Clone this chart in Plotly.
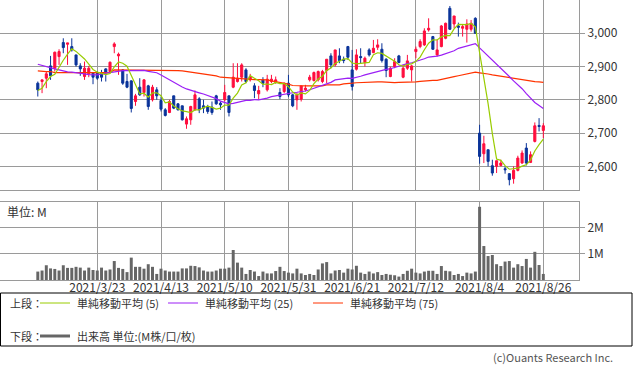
import pandas as pd
import plotly.graph_objects as go

# ---------------- data ----------------
start_date = "2021-03-03"
end_date = "2021-08-26"
jp_holidays = ["2021-04-29", "2021-05-03", "2021-05-04", "2021-05-05",
               "2021-07-22", "2021-07-23", "2021-08-09"]
dates = [d.strftime("%Y-%m-%d") for d in
         pd.bdate_range(start_date, end_date, freq="C", holidays=jp_holidays)]

opens = [2850,2855,2865,2902,2895,2930,2972,2967,2960,2935, 2902,2870,2878,2880,2880,2882,2893,2885,2960,2932,
         2890,2855,2857,2795,2838,2822,2842,2800,2830,2798, 2770,2762,2812,2788,2782,2727,2740,2770,2803,2782,
         2780,2778,2812,2790,2800,2812,2838,2855,2868,2890, 2860,2842,2818,2860,2830,2855,2852,2822,2825,2850,
         2815,2800,2802,2830,2860,2858,2860,2855,2888,2932, 2905,2932,2922,2960,2890,2892,2930,2912,2950,2942,
         2958,2952,2922,2870,2900,2932,2868,2895,2890,2945, 2960,2965,3010,2990,2935,2960,2985,3075,3028,3022,
         3015,3012,3012,3045,2700,2638,2650,2602,2600,2603, 2593,2578,2563,2588,2610,2655,2612,2675,2723,2708]
highs = [2855,2860,2885,2932,2945,2952,2985,2971,2985,2935, 2910,2915,2902,2882,2885,2890,2895,2915,2973,2942,
         2892,2878,2858,2818,2865,2862,2845,2845,2838,2810, 2775,2800,2812,2790,2782,2750,2782,2828,2808,2800,
         2785,2795,2815,2795,2845,2812,2910,2910,2910,2895, 2878,2850,2842,2868,2875,2875,2870,2835,2852,2875,
         2818,2822,2842,2845,2875,2885,2888,2890,2922,2940, 2950,2955,2930,2962,2950,2952,2955,2930,2955,2980,
         2982,2970,2925,2900,2925,2935,2905,2935,2905,2960, 2982,3015,3045,2992,2982,3025,3032,3082,3052,3032,
         3028,3042,3040,3048,2725,2692,2650,2620,2617,2620, 2600,2580,2600,2632,2648,2670,2645,2732,2745,2730]
lows = [2810,2820,2835,2860,2885,2905,2940,2905,2945,2900, 2872,2860,2868,2847,2860,2855,2855,2882,2940,2875,
        2845,2835,2762,2782,2812,2810,2770,2795,2800,2765, 2750,2760,2772,2768,2738,2713,2725,2768,2760,2760,
        2758,2755,2785,2770,2795,2750,2835,2852,2855,2850, 2855,2805,2802,2838,2825,2850,2848,2802,2820,2808,
        2778,2770,2795,2825,2855,2855,2855,2850,2850,2895, 2900,2910,2910,2920,2828,2888,2910,2900,2930,2940,
        2950,2912,2868,2868,2895,2910,2865,2890,2855,2925, 2955,2962,3005,2950,2930,2958,2982,3010,3015,2990,
        2990,2972,3005,2998,2608,2610,2600,2572,2580,2600, 2578,2543,2548,2585,2608,2603,2610,2672,2705,2685]
closes = [2830,2860,2878,2872,2943,2945,2957,2971,2950,2905, 2893,2895,2895,2868,2865,2868,2882,2913,2968,2937,
          2850,2838,2774,2812,2815,2860,2780,2838,2812,2772, 2753,2795,2775,2770,2740,2743,2780,2815,2770,2775,
          2765,2762,2788,2785,2822,2762,2868,2865,2905,2855, 2870,2828,2828,2850,2862,2862,2860,2810,2850,2815,
          2782,2815,2842,2835,2868,2882,2885,2885,2922,2905, 2950,2918,2918,2928,2840,2935,2927,2925,2935,2955,
          2965,2918,2888,2895,2915,2912,2895,2917,2902,2952, 2975,3007,3015,2952,2950,3022,3030,3012,3052,3018,
          3020,3028,3030,3000,2630,2668,2615,2580,2617,2610, 2590,2560,2588,2625,2640,2610,2635,2722,2720,2722]

# volume, in millions of shares
volumes = [0.32,0.36,0.56,0.44,0.42,0.36,0.56,0.46,0.46,0.50, 0.47,0.36,0.47,0.38,0.36,0.47,0.36,0.40,0.72,0.46,
           0.42,0.30,0.85,0.50,0.50,0.43,0.60,0.50,0.23,0.43, 0.36,0.32,0.32,0.32,0.44,0.44,0.54,0.53,0.48,0.36,
           0.32,0.32,0.36,0.43,0.43,0.47,1.14,0.66,0.47,0.23, 0.38,0.32,0.15,0.32,0.25,0.25,0.34,0.50,0.34,0.28,
           0.25,0.43,0.25,0.19,0.23,0.19,0.40,0.63,0.68,0.25, 0.36,0.38,0.28,0.43,0.40,0.54,0.28,0.23,0.32,0.25,
           0.30,0.19,0.23,0.20,0.18,0.13,0.23,0.35,0.43,0.28, 0.25,0.32,0.35,0.35,0.23,0.53,0.35,0.33,0.19,0.23,
           0.15,0.28,0.25,0.32,2.78,1.29,0.91,0.95,0.60,0.53, 0.70,0.72,0.47,0.60,0.53,0.80,0.47,1.07,0.57,0.23]

# moving-average values before enough in-window history exists
ma5_head = [2828, 2835, 2855, 2870]
ma25_head = [2907, 2903, 2900, 2897, 2893, 2890, 2886, 2884, 2883, 2882, 2880, 2878,
             2876, 2875, 2875, 2878, 2880, 2883, 2885, 2887, 2888, 2888, 2888, 2888]
ma75_head = [2887, 2885, 2885, 2885,
             2882, 2882, 2882, 2882, 2882, 2882, 2882, 2882, 2882, 2882, 2882, 2882, 2882, 2882,
             2890, 2890, 2890, 2890, 2890, 2890, 2890, 2890, 2890, 2890, 2890, 2890, 2890, 2890, 2890,
             2888, 2887, 2885, 2883, 2881, 2880, 2878, 2876, 2875, 2872, 2868, 2867, 2866, 2865, 2864, 2862,
             2861, 2861, 2861, 2861, 2861,
             2860, 2857, 2855, 2852, 2850, 2847, 2843,
             2842, 2842, 2842, 2842, 2842, 2842, 2842,
             2845, 2845, 2845, 2845, 2848, 2848]

tick_dates = ["2021-03-23", "2021-04-13", "2021-05-10", "2021-05-31",
              "2021-06-21", "2021-07-12", "2021-08-04", "2021-08-26"]
tick_labels = ["2021/3/23", "2021/4/13", "2021/5/10", "2021/5/31",
               "2021/6/21", "2021/7/12", "2021/8/4", "2021/8/26"]
price_ticks = [2600, 2700, 2800, 2900, 3000]
vol_ticks = [1, 2]
vol_tick_labels = ["1M", "2M"]

legend_upper = ["単純移動平均 (5)", "単純移動平均 (25)", "単純移動平均 (75)"]
legend_lower = "出来高 単位:(M株/口/枚)"

# ---------------- derived ----------------
def rolling(values, window, head):
    out = list(head)
    for i in range(len(head), len(values)):
        seg = values[i - window + 1:i + 1]
        out.append(sum(seg) / window)
    return out

ma5 = rolling(closes, 5, ma5_head)
ma25 = rolling(closes, 25, ma25_head)
ma75 = rolling(closes, 75, ma75_head)

# ---------------- style ----------------
RED = "#FF0D3D"
BLUE = "#0A3399"
C5 = "#99CC00"
C25 = "#9B1FF5"
C75 = "#FF3300"
VOLC = "#666666"
GRID = "#9A9A9A"
FONT = "Noto Sans CJK JP"
TXT = "#333333"

W, H = 633, 373
ML, MR, MT, MB = 0, 54, 0, 93
PW = W - ML - MR
PH = H - MT - MB


def px(xp):
    return (xp - ML) / PW


def py(yp):
    return (H - MB - yp) / PH


fig = go.Figure()

fig.add_trace(go.Candlestick(
    x=dates, open=opens, high=highs, low=lows, close=closes,
    increasing=dict(line=dict(color=RED, width=1), fillcolor=RED),
    decreasing=dict(line=dict(color=BLUE, width=1), fillcolor=BLUE),
    xaxis="x", yaxis="y", hoverinfo="skip"))

for vals, col in [(ma75, C75), (ma25, C25), (ma5, C5)]:
    fig.add_trace(go.Scatter(x=dates, y=vals, mode="lines",
                             line=dict(color=col, width=1.2),
                             xaxis="x", yaxis="y", hoverinfo="skip"))

fig.add_trace(go.Bar(x=dates, y=volumes, marker=dict(color=VOLC, line=dict(width=0)),
                     xaxis="x2", yaxis="y2", hoverinfo="skip"))

xr = [-8.9, 127.4]
common_x = dict(type="category", range=xr, showgrid=True, gridcolor=GRID, gridwidth=1,
                tickvals=tick_dates, ticktext=tick_labels, showline=True, mirror=True,
                linecolor=GRID, linewidth=1, zeroline=False, ticks="",
                fixedrange=True)

fig.update_layout(
    width=W, height=H,
    margin=dict(l=ML, r=MR, t=MT, b=MB, pad=0),
    paper_bgcolor="white", plot_bgcolor="white",
    showlegend=False, bargap=0.3, hovermode=False,
    font=dict(family=FONT, size=11, color=TXT),
    xaxis=dict(**common_x, domain=[0, 1], anchor="y", showticklabels=False,
               rangeslider=dict(visible=False)),
    yaxis=dict(domain=[py(190), 1], range=[2529, 3100], side="right",
               tickvals=price_ticks, tickformat=",", ticks="outside", ticklen=5,
               tickcolor=GRID, showgrid=True, gridcolor=GRID, showline=True, mirror=True,
               linecolor=GRID, zeroline=False, tickfont=dict(size=12, color=TXT),
               fixedrange=True),
    xaxis2=dict(**common_x, domain=[0, 1], anchor="y2", showticklabels=True,
                tickfont=dict(size=12, color=TXT), ticklabelstandoff=-3),
    yaxis2=dict(domain=[0, py(202)], range=[0, 2.962], side="right",
                tickvals=vol_ticks, ticktext=vol_tick_labels, ticks="outside", ticklen=5,
                tickcolor=GRID, showgrid=True, gridcolor=GRID, showline=True, mirror=True,
                linecolor=GRID, zeroline=False, tickfont=dict(size=12, color=TXT),
                fixedrange=True),
)

shapes = []
annots = []

# unit label in volume panel
annots.append(dict(text="単位: M", x=px(5), y=py(211), xref="paper", yref="paper",
                   xanchor="left", yanchor="middle", showarrow=False,
                   font=dict(size=12, color=TXT)))

# legend box
shapes.append(dict(type="rect", xref="paper", yref="paper",
                   x0=px(0.5), x1=px(632), y0=py(346), y1=py(293),
                   line=dict(color="#000000", width=1), fillcolor="rgba(0,0,0,0)"))
row1, row2 = 303, 336
annots.append(dict(text="上段：", x=px(8), y=py(row1), xref="paper", yref="paper",
                   xanchor="left", yanchor="middle", showarrow=False, font=dict(size=11)))
annots.append(dict(text="下段：", x=px(8), y=py(row2), xref="paper", yref="paper",
                   xanchor="left", yanchor="middle", showarrow=False, font=dict(size=11)))
for (lx0, lx1, tx), col, lab in zip([(40, 70, 75), (168, 198, 203), (313, 343, 348)],
                                    [C5, C25, C75], legend_upper):
    shapes.append(dict(type="line", xref="paper", yref="paper",
                       x0=px(lx0), x1=px(lx1), y0=py(row1), y1=py(row1),
                       line=dict(color=col, width=1)))
    annots.append(dict(text=lab, x=px(tx), y=py(row1), xref="paper", yref="paper",
                       xanchor="left", yanchor="middle", showarrow=False, font=dict(size=11)))
shapes.append(dict(type="line", xref="paper", yref="paper",
                   x0=px(40), x1=px(70), y0=py(row2), y1=py(row2),
                   line=dict(color=VOLC, width=3)))
annots.append(dict(text=legend_lower, x=px(75), y=py(row2), xref="paper", yref="paper",
                   xanchor="left", yanchor="middle", showarrow=False, font=dict(size=11)))

annots.append(dict(text="(c)Ouants Research Inc.", x=px(615), y=py(357), xref="paper",
                   yref="paper", xanchor="right", yanchor="middle", showarrow=False,
                   font=dict(size=11, color="#555555")))

fig.update_layout(shapes=shapes, annotations=annots)

fig.write_html("out.html", config={"displayModeBar": False, "staticPlot": True},
               post_script="document.body.style.margin='0px';")
